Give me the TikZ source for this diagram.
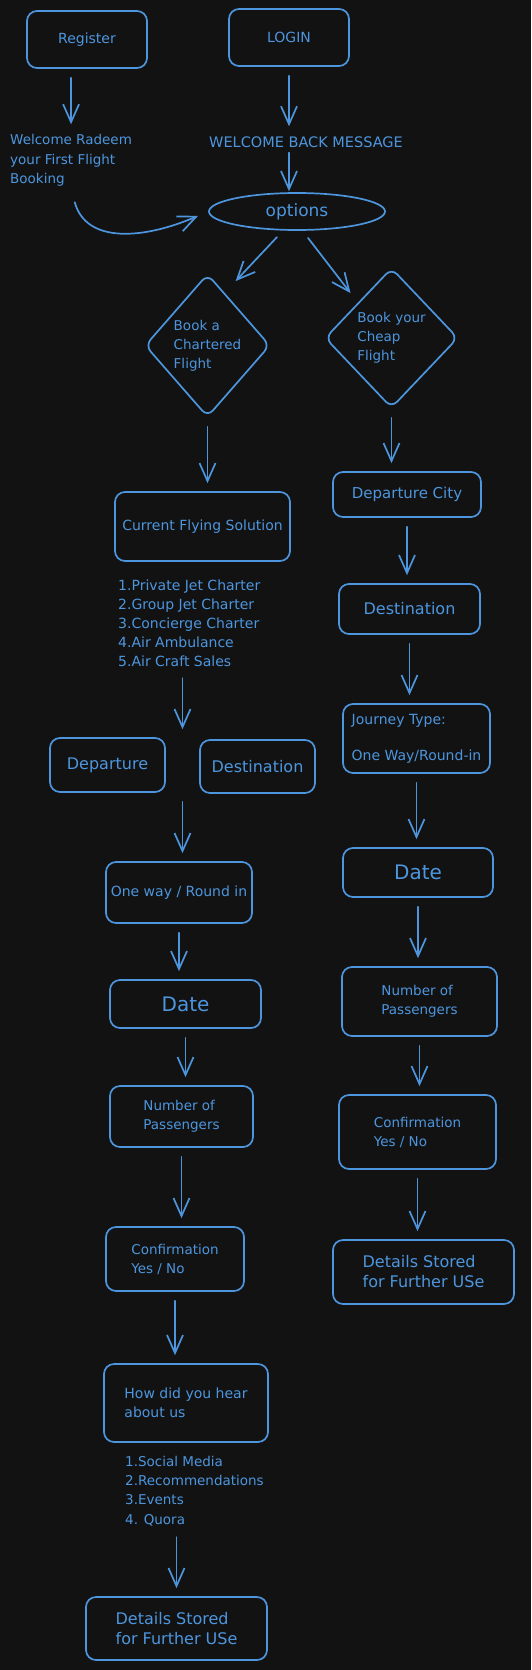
\documentclass[tikz,border=0pt]{standalone}
\usepackage{fontspec}
\setmainfont{DejaVu Sans}
\usetikzlibrary{shapes.geometric,arrows.meta,calc}
\definecolor{bg}{HTML}{121212}
\definecolor{fl}{RGB}{77,150,222}
\newcommand{\fsz}[2]{\fontsize{#1}{#2}\selectfont}

\begin{document}
\begin{tikzpicture}[x=1pt, y=-1pt, line join=round, line cap=round,
	>={Straight Barb[length=18pt,width=16pt]},
	box/.style={draw=fl, text=fl, line width=1.7pt, rounded corners=10pt, align=left, font=\fsz{14}{19}, inner sep=0pt},
	dmd/.style={box, diamond, rounded corners=8pt},
	txt/.style={text=fl, align=left, font=\fsz{14}{19}, inner sep=2pt},
	arr/.style={->, draw=fl, line width=1.7pt, shorten <=9pt, shorten >=8pt}]
	\fill[bg] (0,0) rectangle (531,1670);

	\node[box, minimum width=120pt, minimum height=57pt] (reg) at (87,39.5) {Register};
	\node[box, minimum width=120pt, minimum height=57pt] (login) at (289,37.5) {LOGIN};
	\node[txt, font=\fsz{13.5}{19.5}, anchor=west] (wel) at (8,160.5) {Welcome Radeem\\your First Flight\\Booking};
	\node[txt, font=\fsz{14.5}{19}] (wbm) at (306,142) {WELCOME BACK MESSAGE};
	\node[box, ellipse, minimum width=176pt, minimum height=37pt, font=\fsz{17}{20}] (opt) at (297,211.5) {options};
	\node[dmd, minimum width=125pt, minimum height=143pt, font=\fsz{13.5}{19}] (bc) at (207.5,345.5) {Book a\\Chartered\\Flight};
	\node[dmd, minimum width=133pt, minimum height=140pt, font=\fsz{13.5}{19}] (bcf) at (391.5,338) {Book your\\Cheap\\Flight};

	\node[box, minimum width=175pt, minimum height=69pt] (cfs) at (202.5,526.5) {Current Flying Solution};
	\node[txt, anchor=west] (list1) at (116,623.5) {1.Private Jet Charter\\2.Group Jet Charter\\3.Concierge Charter\\4.Air Ambulance\\5.Air Craft Sales};
	\node[box, minimum width=115pt, minimum height=54pt, font=\fsz{16}{19}] (dep) at (107.5,765) {Departure};
	\node[box, minimum width=115pt, minimum height=53pt, font=\fsz{16}{19}] (dst1) at (257.5,766.5) {Destination};
	\node[box, minimum width=146pt, minimum height=61pt] (ow) at (179,892.5) {One way / Round in};
	\node[box, minimum width=151pt, minimum height=48pt, font=\fsz{20}{22}] (date1) at (185.5,1004) {Date};
	\node[box, minimum width=143pt, minimum height=61pt, font=\fsz{13.5}{19}] (np1) at (181.5,1116.5) {Number of\\Passengers};
	\node[box, minimum width=138pt, minimum height=64pt, font=\fsz{13.5}{19}] (cf1) at (175,1259) {Confirmation\\Yes / No};
	\node[box, minimum width=164pt, minimum height=78pt] (how) at (186,1403) {How did you hear\\about us};
	\node[txt, font=\fsz{13.5}{19.3}, anchor=west] (list2) at (123,1491) {1.Social Media\\2.Recommendations\\3.Events\\4. Quora};
	\node[box, minimum width=181pt, minimum height=63pt, font=\fsz{16}{20}] (ds1) at (176.5,1628.5) {Details Stored\\for Further USe};

	\node[box, minimum width=148pt, minimum height=45pt, font=\fsz{15}{19}] (dc) at (407,494.5) {Departure City};
	\node[box, minimum width=141pt, minimum height=50pt, font=\fsz{16}{19}] (dst2) at (409.5,609) {Destination};
	\node[box, minimum width=147pt, minimum height=69pt] (jt) at (416.5,738.5) {Journey Type:\\[17pt]One Way/Round-in};
	\node[box, minimum width=150pt, minimum height=49pt, font=\fsz{20}{22}] (date2) at (418,872.5) {Date};
	\node[box, minimum width=155pt, minimum height=69pt, font=\fsz{13.5}{19}] (np2) at (419.5,1001.5) {Number of\\Passengers};
	\node[box, minimum width=157pt, minimum height=74pt, font=\fsz{13.5}{19}] (cf2) at (417.5,1132) {Confirmation\\Yes / No};
	\node[box, minimum width=181pt, minimum height=64pt, font=\fsz{16}{20}] (ds2) at (423.5,1272) {Details Stored\\for Further USe};

	\path ($(dep.east)!.5!(dst1.west)$) coordinate (gap);

	\draw[arr] (wel.north |- reg.south) -- (wel.north);
	\draw[arr] (login.south) -- (login.south |- wbm.north);
	\draw[arr, shorten <=3pt, shorten >=1pt] (wbm.south -| login.south) -- (opt.north -| login.south);
	\draw[arr, shorten <=14pt, shorten >=11pt] (wel.south) .. controls +(15,55) and +(-65,28) .. (opt.west);
	\draw[arr, shorten >=16pt] (opt.234) -- (bc.72);
	\draw[arr, shorten >=12pt] (opt.286) -- (bcf.north west);
	\foreach \a/\b in {bc/cfs,bcf/dc,dc/dst2,dst2/jt,jt/date2,date2/np2,np2/cf2,cf2/ds2,ow/date1,date1/np1,np1/cf1,cf1/how}
	\draw[arr] (\a.south) -- (\a.south |- \b.north);
	\draw[arr] (list1.south -| gap) -- (gap |- dep.north);
	\draw[arr] (gap |- dep.south) -- (gap |- ow.north);
	\draw[arr] (list2.south -| ds1.north) -- (ds1.north);
\end{tikzpicture}
\end{document}
